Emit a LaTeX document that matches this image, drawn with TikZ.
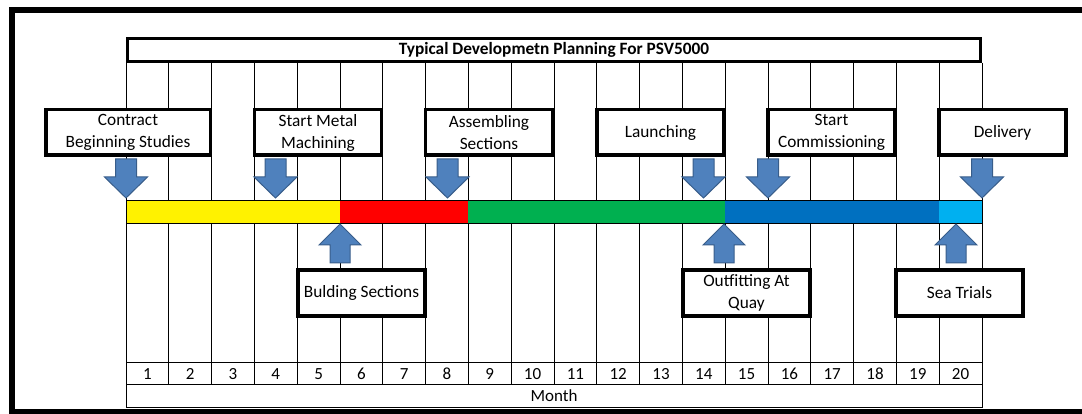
\documentclass[tikz,border=0pt]{standalone}
\usepackage{fontspec}
\setmainfont{Carlito}

\definecolor{bargreen}{HTML}{00B050}
\definecolor{barblue}{HTML}{0070C0}
\definecolor{barcyan}{HTML}{00B0F0}
\definecolor{arrfill}{HTML}{4F81BD}
\definecolor{arredge}{HTML}{385D8A}

\begin{document}
\begin{tikzpicture}[x=1pt, y=-1pt,
	stage/.style={draw, line width=3.5pt, fill=white, inner sep=0pt, align=center,
		minimum width=127pt, minimum height=45.5pt,
		font=\fontsize{17.3}{22}\selectfont},
	cell/.style={font=\fontsize{17}{18}\selectfont},
	arr/.style={fill=arrfill, draw=arredge, line width=1pt},
	arrowdown/.pic={\draw[arr] (0,0) -- (-21.5,-21) -- (-10.5,-21) -- (-10.5,-39) --
		(10.5,-39) -- (10.5,-21) -- (21.5,-21) -- cycle;},
	arrowup/.pic={\draw[arr] (0,0) -- (-21,21) -- (-10,21) -- (-10,39) --
		(10,39) -- (10,21) -- (21,21) -- cycle;}]
\clip (0,0) rectangle (1082,414);

% outer frame
\draw[line width=6pt] (1100,10) -- (11.5,10) -- (11.5,412) -- (1100,412);

% month columns
\foreach \i in {0,...,20}
	\draw[line width=0.8pt] (126+42.8*\i, 63) -- (126+42.8*\i, 384);
\draw[line width=0.8pt] (126,362) -- (982,362);
\draw[line width=0.8pt] (126,384) rectangle (982,407);
\foreach \i in {1,...,20}
	\node[cell] (m\i) at (104.6+42.8*\i, 374) {\i};
\node[cell] (month) at (554, 396) {Month};

% phase bar
\foreach \a/\b/\c in {126/340/yellow, 340/468.4/red, 468.4/725.2/bargreen,
		725.2/939/barblue, 939/982/barcyan}
	\fill[\c] (\a,200.5) rectangle (\b,223.5);
\draw[line width=0.8pt] (126,200.5) rectangle (982,223.5);

% title
\node[draw, line width=3pt, fill=white, minimum width=853pt, minimum height=23pt,
	inner sep=0pt, font=\fontsize{17.3}{18}\bfseries] (title) at (554,50)
	{Typical Developmetn Planning For PSV5000};

% milestones above the bar
\node[stage, minimum width=164.5pt] (contract) at (128,132.5) {Contract\\Beginning Studies};
\node[stage] (metal) at (318,132.5) {Start Metal\\Machining};
\node[stage] (assembly) at (489,132.5) {Assembling\\Sections};
\node[stage] (launch) at (660.5,132.5) {Launching};
\node[stage] (commission) at (831.5,132.5) {Start\\Commissioning};
\node[stage] (delivery) at (1002.5,132.5) {Delivery};

% milestones below the bar
\node[stage] (building) at (361.5,293) {Bulding Sections};
\node[stage] (outfit) at (746.5,293) {Outfitting At\\Quay};
\node[stage] (trials) at (959.5,293) {Sea Trials};

\pic at (126,198) {arrowdown};
\pic at (275.5,198) {arrowdown};
\pic at (447.5,198) {arrowdown};
\pic at (703.5,198) {arrowdown};
\pic at (768,198) {arrowdown};
\pic at (982,198) {arrowdown};

\pic at (340,224) {arrowup};
\pic at (724,224) {arrowup};
\pic at (956,224) {arrowup};
\end{tikzpicture}
\end{document}
